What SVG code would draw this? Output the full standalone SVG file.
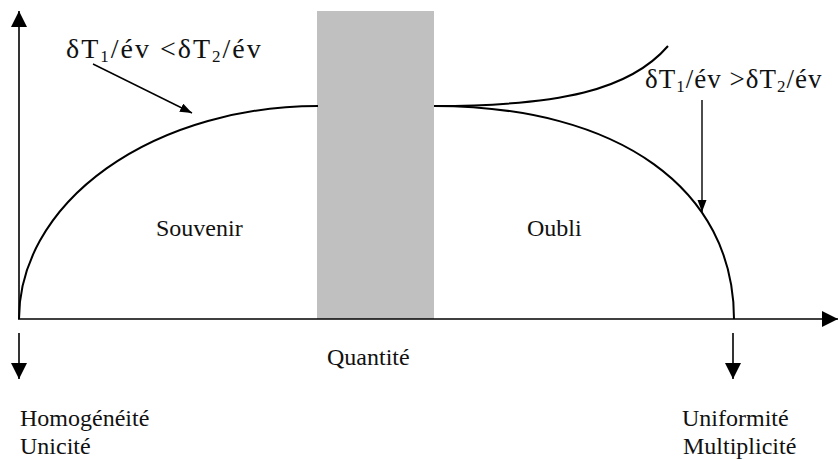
<svg xmlns="http://www.w3.org/2000/svg" width="838" height="460" viewBox="0 0 838 460">
<style>
.lbl{font-size:24px;}
.eq{font-size:28px;letter-spacing:2px;}
.eq2{font-size:27px;letter-spacing:1px;}
.sub{font-size:17px;}
.ax{stroke:#000;stroke-width:1.6;fill:none;}
.cv{stroke:#000;stroke-width:2;fill:none;}
.ar{stroke:#000;stroke-width:1.4;fill:none;}
</style>
<defs>
<marker id="big" markerUnits="userSpaceOnUse" markerWidth="17" markerHeight="17" refX="16" refY="8" orient="auto">
<path d="M0,0 L16,8 L0,16 z" fill="#000"/>
</marker>
<marker id="small" markerUnits="userSpaceOnUse" markerWidth="14" markerHeight="10" refX="12" refY="4.5" orient="auto">
<path d="M0,0 L12,4.5 L0,9 z" fill="#000"/>
</marker>
</defs>
<g id="band"><rect x="317" y="11" width="117" height="308" fill="#c0c0c0"/></g>
<g id="connectors">
<line class="ax" x1="19" y1="319" x2="19" y2="11" marker-end="url(#big)"/>
<line class="ax" x1="18" y1="319" x2="838" y2="319" marker-end="url(#big)"/>
<line class="ax" x1="19" y1="333" x2="19" y2="379" marker-end="url(#big)"/>
<line class="ax" x1="733" y1="333" x2="733" y2="379" marker-end="url(#big)"/>
<path class="cv" d="M19,319 A299 213 0 0 1 318,106"/>
<path class="cv" d="M434,106 C620,106 734,190 734,319"/>
<path class="cv" d="M434,106 C560,106 630,90 668,46"/>
<line class="ar" x1="93" y1="64" x2="192" y2="113" marker-end="url(#small)"/>
<line class="ar" x1="702" y1="100" x2="702" y2="212" marker-end="url(#small)"/>
</g>
<g id="labels" font-family="'Liberation Serif', 'DejaVu Serif', 'Times New Roman', serif" fill="#111">
<text class="eq" x="66" y="58">δT<tspan class="sub" dy="4">1</tspan><tspan dy="-4">/év &lt;δT</tspan><tspan class="sub" dy="4">2</tspan><tspan dy="-4">/év</tspan></text>
<text class="eq2" x="645" y="88">δT<tspan class="sub" dy="4">1</tspan><tspan dy="-4">/év &gt;δT</tspan><tspan class="sub" dy="4">2</tspan><tspan dy="-4">/év</tspan></text>
<text class="lbl" x="156" y="236">Souvenir</text>
<text class="lbl" x="527" y="236">Oubli</text>
<text class="lbl" x="327" y="365">Quantité</text>
<text class="lbl" x="20" y="426">Homogénéité</text>
<text class="lbl" x="20" y="454">Unicité</text>
<text class="lbl" x="682" y="426">Uniformité</text>
<text class="lbl" x="683" y="454">Multiplicité</text>
</g>
</svg>
